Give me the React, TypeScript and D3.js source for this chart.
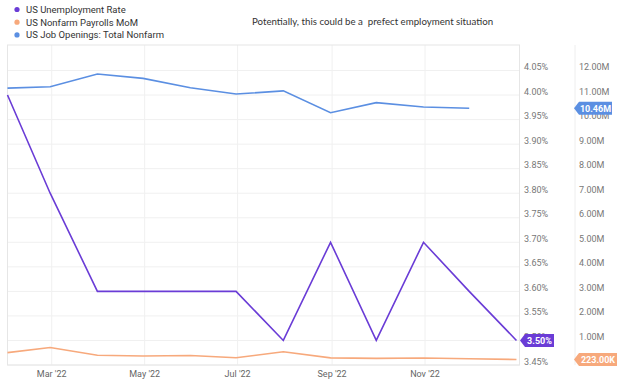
import React from 'react';
import * as d3 from 'd3';

// monthly values, 2022 (plotted at month end)
const months = ['2022-01-31', '2022-02-28', '2022-03-31', '2022-04-30', '2022-05-31', '2022-06-30',
  '2022-07-31', '2022-08-31', '2022-09-30', '2022-10-31', '2022-11-30', '2022-12-31'];
const unemployment = [4.0, 3.8, 3.6, 3.6, 3.6, 3.6, 3.5, 3.7, 3.5, 3.7, 3.6, 3.5];
const payrolls = [0.504, 0.714, 0.398, 0.368, 0.386, 0.293, 0.537, 0.292, 0.269, 0.284, 0.256, 0.223];
const jobOpenings = [11.28, 11.34, 11.86, 11.68, 11.30, 11.04, 11.17, 10.28, 10.69, 10.51, 10.46];

const pctTicks = [3.45, 3.5, 3.55, 3.6, 3.65, 3.7, 3.75, 3.8, 3.85, 3.9, 3.95, 4.0, 4.05];
const mTicks = [1, 2, 3, 4, 5, 6, 7, 8, 9, 10, 11, 12];
const xTicks = ['2022-03-01', '2022-05-01', '2022-07-01', '2022-09-01', '2022-11-01'];

const series = [
  { name: 'US Unemployment Rate', color: '#6a3cd6' },
  { name: 'US Nonfarm Payrolls MoM', color: '#f7a97c' },
  { name: 'US Job Openings: Total Nonfarm', color: '#5b8fe2' },
];

const W = 624;
const H = 385;
const left = 7.5;
const right = 519.5;
const top = 45;
const bottom = 365;
const font = 'Roboto, sans-serif';

const parse = d3.timeParse('%Y-%m-%d');

const Badge = ({ x, y, w, color, label }) => {
  const h = 13;
  const a = 5;
  const d = `M${x},${y} L${x + a},${y - h / 2} L${x + w},${y - h / 2} L${x + w},${y + h / 2} L${x + a},${y + h / 2} Z`;
  return (
    <g>
      <path d={d} fill={color} />
      <text x={x + a + (w - a) / 2} y={y + 3.3} textAnchor="middle" fill="#fff"
        fontSize={9} fontWeight="bold" fontFamily={font}>{label}</text>
    </g>
  );
};

const App = () => {
  const dates = months.map((m) => parse(m));
  const x = d3.scaleTime().domain([parse('2022-01-31'), parse('2023-01-02')]).range([left, right]);
  const yPct = d3.scaleLinear().domain([3.45, 4.05]).range([bottom, top + 25.5]);
  const yM = d3.scaleLinear().domain([0, 12]).range([bottom, top + 25.5]);

  const linePct = d3.line().x((d) => x(d[0])).y((d) => yPct(d[1]));
  const lineM = d3.line().x((d) => x(d[0])).y((d) => yM(d[1]));

  const uPath = linePct(dates.map((d, i) => [d, unemployment[i]]));
  const pPath = lineM(dates.map((d, i) => [d, payrolls[i]]));
  const jPath = lineM(jobOpenings.map((v, i) => [dates[i], v]));

  const fmtX = d3.timeFormat("%b '%y");
  const lastU = unemployment[unemployment.length - 1];
  const lastP = payrolls[payrolls.length - 1];
  const lastJ = jobOpenings[jobOpenings.length - 1];

  return (
    <svg width={W} height={H} style={{ position: 'absolute', left: 0, top: 0, background: '#fff' }}>
      {/* legend */}
      {series.map((s, i) => (
        <g key={s.name}>
          <circle cx={17} cy={9.5 + i * 12.7} r={2.6} fill={s.color} />
          <text x={26} y={13 + i * 12.7} fontSize={9.5} fontFamily={font} fill="#333">{s.name}</text>
        </g>
      ))}
      <text x={252} y={25} fontSize={9.7} fontFamily="Lato, sans-serif" fill="#333" style={{ whiteSpace: 'pre' }}>
        {'Potentially, this could be a  prefect employment situation'}
      </text>

      {/* grid */}
      {pctTicks.map((t) => (
        <line key={t} x1={left} x2={right} y1={yPct(t)} y2={yPct(t)} stroke="#f0f0f0" />
      ))}
      {xTicks.map((t) => (
        <line key={t} x1={x(parse(t))} x2={x(parse(t))} y1={top} y2={bottom} stroke="#f0f0f0" />
      ))}
      <rect x={left} y={top} width={right - left} height={bottom - top} fill="none" stroke="#e6e6e6" />
      <line x1={575} x2={575} y1={top} y2={bottom} stroke="#eeeeee" />

      {/* axis labels */}
      {pctTicks.map((t) => (
        <text key={t} x={524} y={yPct(t) - 0.5} fontSize={9} fontFamily={font} fill="#777">
          {d3.format('.2f')(t)}%
        </text>
      ))}
      {mTicks.map((t) => (
        <text key={t} x={579} y={yM(t) - 0.5} fontSize={9} fontFamily={font} fill="#777">
          {d3.format('.2f')(t)}M
        </text>
      ))}
      {xTicks.map((t) => (
        <text key={t} x={x(parse(t))} y={377} textAnchor="middle" fontSize={9} fontFamily={font} fill="#666">
          {fmtX(parse(t))}
        </text>
      ))}

      {/* lines */}
      <path d={jPath} fill="none" stroke={series[2].color} strokeWidth={1.6} />
      <path d={pPath} fill="none" stroke={series[1].color} strokeWidth={1.6} />
      <path d={uPath} fill="none" stroke={series[0].color} strokeWidth={1.6} />

      {/* last value badges */}
      <Badge x={520} y={yPct(lastU)} w={34} color={series[0].color} label={`${d3.format('.2f')(lastU)}%`} />
      <Badge x={574} y={yM(lastJ)} w={38} color={series[2].color} label={`${d3.format('.2f')(lastJ)}M`} />
      <Badge x={574} y={yM(lastP)} w={43} color={series[1].color} label={`${d3.format('.2f')(lastP * 1000)}K`} />
    </svg>
  );
};

export default App;
